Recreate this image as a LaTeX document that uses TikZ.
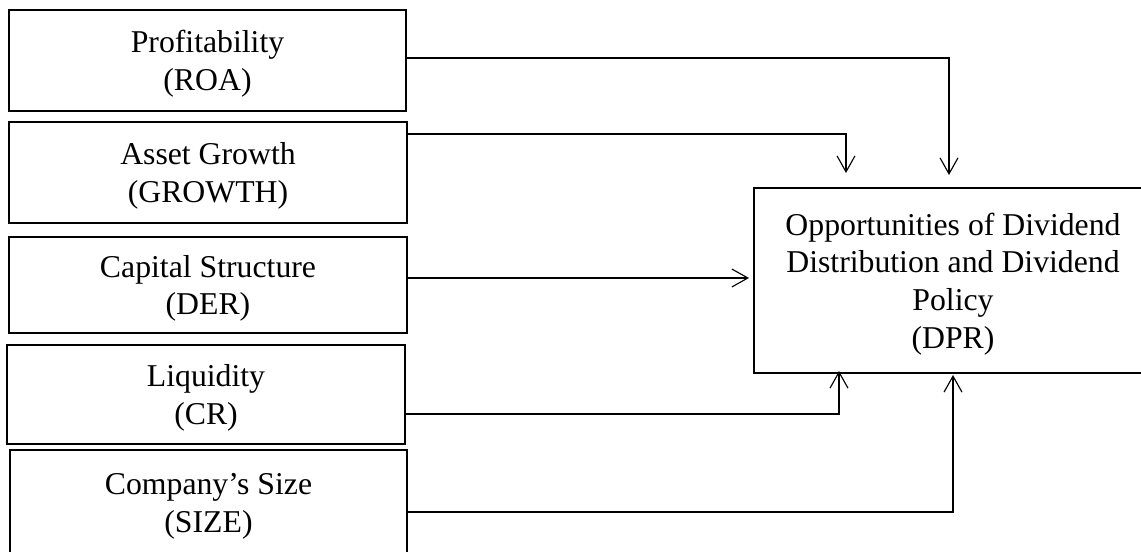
\documentclass[tikz,border=0pt]{standalone}
\usepackage{fontspec}
\setmainfont{Liberation Serif}
\usetikzlibrary{arrows.meta}

\begin{document}
\begin{tikzpicture}[x=0.4pt,y=-0.4pt,
    var/.style={draw,line width=0.8pt,minimum width=158.8pt,inner sep=0pt,align=center,
      font=\fontsize{12.7}{15.1}\selectfont,text depth=-1.3pt},
    link/.style={line width=0.45pt,-{Straight Barb[length=6.4pt,width=7.2pt]}}]
      \useasboundingbox (0,0) rectangle (1141,552);
      \node[var,minimum height=40.4pt] (roa) at (207.5,60.5) {Profitability\\(ROA)};
      \node[var,minimum height=40.4pt] (growth) at (208,172.5) {Asset Growth\\(GROWTH)};
      \node[var,minimum height=38.4pt] (der) at (208,285) {Capital Structure\\(DER)};
      \node[var,minimum height=39.6pt] (cr) at (206,394.5) {Liquidity\\(CR)};
      \node[var,minimum height=42.4pt] (size) at (208.5,503) {Company’s Size\\(SIZE)};
      \node[var,minimum width=159.2pt,minimum height=74pt] (dpr) at (953,280.5)
        {Opportunities of Dividend\\Distribution and Dividend\\Policy\\(DPR)};
      \coordinate (tiproa) at (949,175);
      \coordinate (tipgrowth) at (846,173);
      \coordinate (tipcr) at (839,371);
      \coordinate (tipsize) at (953,375);
      \draw[link] (roa.east |- 0,58) -| (tiproa);
      \draw[link] (growth.east |- 0,134) -| (tipgrowth);
      \draw[link,shorten >=1.6pt] (der.east |- 0,278) -- (dpr.west |- 0,278);
      \draw[link] (cr.east |- 0,414) -| (tipcr);
      \draw[link] (size.east |- 0,512) -| (tipsize);
    \end{tikzpicture}
\end{document}
